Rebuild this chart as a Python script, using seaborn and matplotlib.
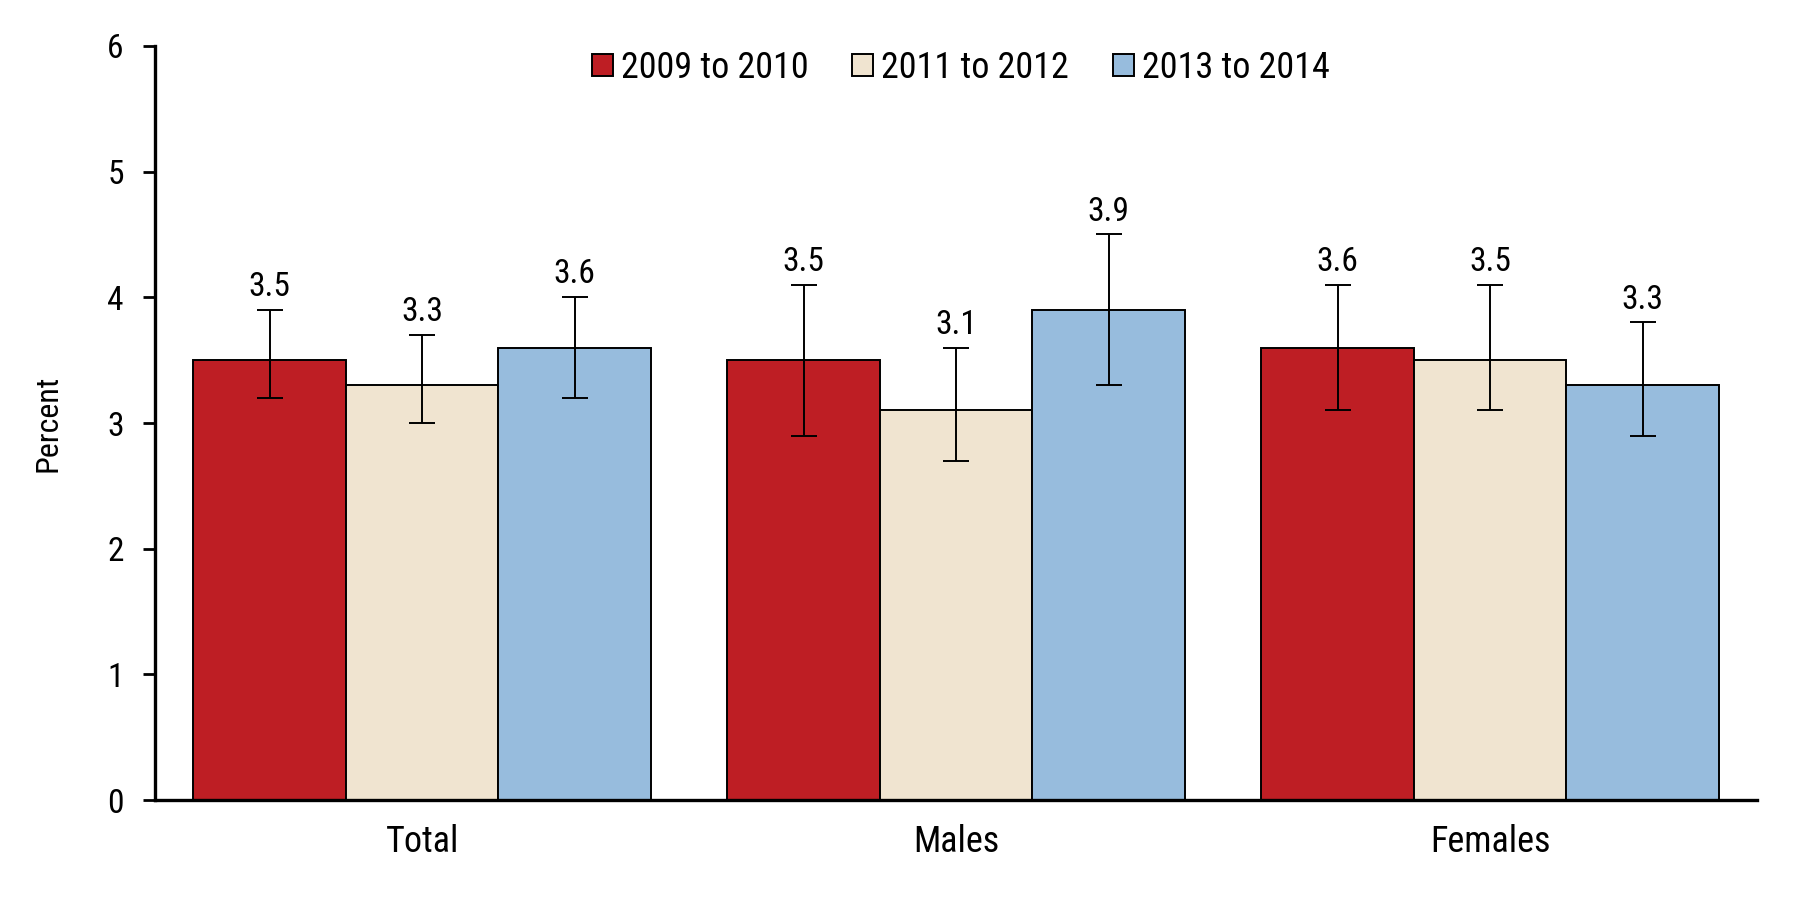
import matplotlib
matplotlib.use("Agg")
import matplotlib.pyplot as plt
import seaborn as sns
import pandas as pd
from matplotlib.patches import Patch

# data
groups = ["Total", "Males", "Females"]
periods = ["2009 to 2010", "2011 to 2012", "2013 to 2014"]
values = {
    "2009 to 2010": [3.5, 3.5, 3.6],
    "2011 to 2012": [3.3, 3.1, 3.5],
    "2013 to 2014": [3.6, 3.9, 3.3],
}
lower = {
    "2009 to 2010": [3.2, 2.9, 3.1],
    "2011 to 2012": [3.0, 2.7, 3.1],
    "2013 to 2014": [3.2, 3.3, 2.9],
}
upper = {
    "2009 to 2010": [3.9, 4.1, 4.1],
    "2011 to 2012": [3.7, 3.6, 4.1],
    "2013 to 2014": [4.0, 4.5, 3.8],
}
colors = ["#BE1E24", "#F0E4D0", "#97BCDD"]

sns.set_style("white")
plt.rcParams["font.family"] = ["Roboto Condensed", "Liberation Sans", "DejaVu Sans"]
plt.rcParams["text.color"] = "black"
plt.rcParams["xtick.color"] = "black"
plt.rcParams["ytick.color"] = "black"
plt.rcParams["axes.labelcolor"] = "black"

rows = []
for p in periods:
    for i, g in enumerate(groups):
        rows.append({"group": g, "period": p, "value": values[p][i],
                     "lo": lower[p][i], "hi": upper[p][i]})
df = pd.DataFrame(rows)

fig = plt.figure(figsize=(18.01, 9), dpi=100)
ax = fig.add_axes([0.0861, 0.111, 0.8895, 0.838])

sns.barplot(data=df, x="group", y="value", hue="period", order=groups,
            hue_order=periods, palette=colors, errorbar=None, width=0.857,
            edgecolor="black", linewidth=1.4, saturation=1, ax=ax, legend=False)

# error bars and value labels at the bars seaborn drew
for container, p in zip(ax.containers, periods):
    for bar, g in zip(container, groups):
        r = df[(df.group == g) & (df.period == p)].iloc[0]
        xc = bar.get_x() + bar.get_width() / 2
        ax.errorbar(xc, r.value, yerr=[[r.value - r.lo], [r.hi - r.value]],
                    fmt="none", ecolor="black", elinewidth=1.4, capsize=9.7,
                    capthick=1.4)
        ax.annotate(f"{r.value:.1f}", (xc, r.hi), xytext=(0, 10),
                    textcoords="offset points", ha="center", va="baseline",
                    fontsize=24)

ax.set_ylim(0, 6)
ax.set_xlim(-0.5, 2.5)
ax.set_yticks(range(7))
ax.set_xlabel("")
ax.set_ylabel("Percent", fontsize=23, labelpad=32)
ax.tick_params(axis="y", labelsize=24, length=8.6, width=2, direction="out",
               left=True, pad=14)
ax.tick_params(axis="x", labelsize=26, length=0, pad=17)
sns.despine(ax=ax)
for s in ["left", "bottom"]:
    ax.spines[s].set_linewidth(2.4)
    ax.spines[s].set_color("black")

handles = [Patch(facecolor=c, edgecolor="black", linewidth=1.4, label=p)
           for c, p in zip(colors, periods)]
ax.legend(handles=handles, loc="center", bbox_to_anchor=(0.503, 0.971),
          ncol=3, frameon=False, fontsize=26, handlelength=0.58,
          handleheight=0.58, handletextpad=0.22, columnspacing=1.22,
          borderpad=0)

fig.savefig("out.png", dpi=100)
